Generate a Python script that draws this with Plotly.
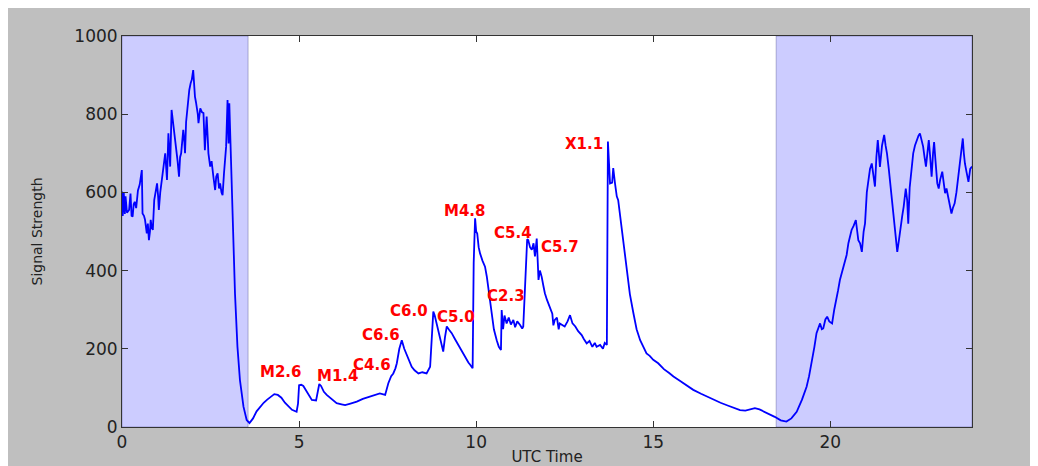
import plotly.graph_objects as go

hours = [
    0.00, 0.02, 0.05, 0.08, 0.10, 0.14, 0.20, 0.24, 0.27, 0.30, 0.33, 0.36, 0.40, 0.45, 0.50, 0.56, 0.58, 0.62,
    0.65, 0.70, 0.73, 0.76, 0.79, 0.81, 0.84, 0.87, 0.91, 0.95, 0.99, 1.02, 1.04, 1.08, 1.12, 1.17, 1.22, 1.25,
    1.27, 1.31, 1.34, 1.36, 1.40, 1.44, 1.47, 1.50, 1.54, 1.57, 1.61, 1.64, 1.67, 1.73, 1.76, 1.78, 1.81, 1.84,
    1.87, 1.90, 1.94, 1.97, 2.01, 2.03, 2.06, 2.09, 2.11, 2.14, 2.16, 2.19, 2.21, 2.26, 2.30, 2.34, 2.37, 2.39,
    2.42, 2.44, 2.49, 2.53, 2.58, 2.63, 2.66, 2.70, 2.74, 2.77, 2.81, 2.84, 2.88, 2.91, 2.94, 2.98, 3.01, 3.03,
    3.05, 3.07, 3.12, 3.19, 3.26, 3.33, 3.43, 3.52, 3.60, 3.70, 3.80, 3.90, 4.00, 4.10, 4.20, 4.30, 4.40, 4.50,
    4.60, 4.70, 4.80, 4.93, 4.97, 5.00, 5.06, 5.12, 5.20, 5.28, 5.36, 5.48, 5.52, 5.57, 5.62, 5.70, 5.78, 5.90,
    6.06, 6.20, 6.30, 6.45, 6.63, 6.80, 7.00, 7.15, 7.28, 7.43, 7.52, 7.60, 7.66, 7.72, 7.76, 7.83, 7.90, 7.97,
    8.04, 8.10, 8.18, 8.26, 8.37, 8.48, 8.60, 8.70, 8.75, 8.79, 8.83, 8.88, 8.93, 8.98, 9.03, 9.07, 9.12, 9.17,
    9.24, 9.31, 9.40, 9.48, 9.54, 9.62, 9.70, 9.78, 9.83, 9.90, 9.93, 9.97, 10.00, 10.03, 10.07, 10.11, 10.18,
    10.25, 10.30, 10.34, 10.39, 10.44, 10.50, 10.58, 10.64, 10.70, 10.72, 10.76, 10.80, 10.86, 10.92, 10.98,
    11.05, 11.10, 11.16, 11.24, 11.30, 11.33, 11.38, 11.41, 11.44, 11.47, 11.52, 11.57, 11.62, 11.66, 11.71,
    11.74, 11.76, 11.80, 11.85, 11.90, 11.94, 12.00, 12.08, 12.15, 12.18, 12.22, 12.28, 12.33, 12.36, 12.43,
    12.50, 12.58, 12.65, 12.72, 12.80, 12.88, 12.98, 13.04, 13.12, 13.20, 13.28, 13.35, 13.40, 13.50, 13.58,
    13.63, 13.69, 13.72, 13.76, 13.78, 13.84, 13.87, 13.92, 13.97, 14.01, 14.06, 14.11, 14.18, 14.25, 14.34,
    14.44, 14.53, 14.63, 14.72, 14.81, 14.90, 15.00, 15.14, 15.30, 15.45, 15.57, 15.75, 15.95, 16.13, 16.35,
    16.55, 16.70, 16.90, 17.10, 17.30, 17.45, 17.60, 17.75, 17.87, 18.00, 18.15, 18.30, 18.43, 18.60, 18.76,
    18.90, 19.05, 19.20, 19.33, 19.40, 19.47, 19.55, 19.61, 19.66, 19.71, 19.76, 19.80, 19.86, 19.91, 19.97,
    20.05, 20.11, 20.17, 20.22, 20.27, 20.34, 20.41, 20.46, 20.51, 20.56, 20.60, 20.66, 20.72, 20.76, 20.79,
    20.84, 20.89, 20.94, 20.98, 21.03, 21.07, 21.12, 21.17, 21.22, 21.26, 21.30, 21.34, 21.37, 21.40, 21.46,
    21.52, 21.56, 21.60, 21.65, 21.69, 21.74, 21.78, 21.83, 21.89, 21.94, 21.98, 22.03, 22.07, 22.13, 22.17,
    22.20, 22.24, 22.29, 22.34, 22.39, 22.44, 22.49, 22.53, 22.58, 22.62, 22.66, 22.70, 22.74, 22.78, 22.82,
    22.86, 22.90, 22.93, 22.97, 23.02, 23.06, 23.10, 23.16, 23.20, 23.24, 23.28, 23.32, 23.37, 23.42, 23.46,
    23.51, 23.56, 23.61, 23.66, 23.74, 23.77, 23.80, 23.85, 23.90, 23.95, 24.00,
]

signal = [
    602, 540, 600, 545, 590, 548, 555, 597, 540, 538, 570, 576, 560, 605, 620, 657, 546, 540,
    530, 495, 520, 478, 500, 530, 510, 504, 580, 600, 623, 590, 555, 600, 632, 657, 700, 660,
    632, 751, 700, 666, 811, 780, 760, 735, 717, 680, 640, 690, 700, 760, 730, 700, 780, 811,
    840, 862, 880, 888, 913, 870, 845, 830, 820, 800, 777, 800, 815, 805, 803, 708, 760, 794,
    740, 700, 666, 680, 640, 606, 640, 649, 610, 623, 600, 593, 649, 680, 717, 836, 725, 828,
    760, 717, 512, 342, 205, 120, 52, 18, 10, 22, 40, 52, 62, 70, 78, 84, 82, 75,
    62, 52, 44, 39, 60, 107, 108, 105, 92, 80, 69, 68, 90, 110, 105, 90, 82, 72,
    61, 58, 56, 60, 65, 72, 78, 84, 86, 82, 112, 130, 137, 150, 163, 200, 222, 200,
    184, 168, 154, 145, 137, 140, 137, 154, 230, 295, 285, 265, 248, 231, 210, 193, 230, 257,
    248, 240, 225, 212, 205, 190, 178, 165, 159, 150, 420, 534, 500, 495, 460, 444, 425,
    410, 385, 359, 320, 282, 250, 222, 205, 197, 299, 250, 285, 265, 280, 262,
    274, 255, 270, 261, 252, 257, 380, 444, 480, 478, 460, 453, 470, 436, 482,
    420, 376, 400, 384, 360, 342, 325, 308, 290, 260, 274, 280, 250, 265, 262,
    257, 270, 286, 265, 257, 245, 235, 225, 214, 220, 205, 215, 205, 210, 200,
    215, 210, 730, 640, 623, 625, 662, 623, 590, 580, 545, 512, 455, 402, 340,
    291, 250, 222, 205, 188, 182, 172, 163, 148, 138, 129, 118, 105, 95, 85,
    76, 69, 62, 55, 48, 43, 42, 46, 48, 45, 39, 32, 26, 17, 14,
    22, 39, 70, 103, 130, 163, 205, 240, 255, 265, 250, 252, 275, 282, 270,
    265, 300, 325, 350, 376, 400, 419, 440, 470, 490, 504, 515, 529, 500, 478,
    470, 448, 500, 521, 600, 632, 660, 674, 640, 615, 690, 734, 700, 665, 720,
    747, 720, 699, 660, 623, 580, 538, 490, 448, 480, 512, 540, 563, 610, 580,
    520, 612, 660, 700, 720, 734, 745, 751, 730, 717, 690, 666, 700, 734, 690,
    640, 700, 729, 680, 623, 610, 632, 653, 620, 598, 610, 589, 570, 546, 560,
    572, 600, 640, 690, 738, 700, 674, 650, 627, 660, 666,
]

# Night-time (shaded) intervals, in UTC hours
night_start = [0.0, 18.47]
night_end = [3.56, 24.0]

# Flare labels
flare_labels = ["M2.6", "M1.4", "C4.6", "C6.6", "C6.0", "C5.0", "C2.3", "M4.8", "C5.4", "C5.7", "X1.1"]
flare_x = [4.49, 6.10, 7.06, 7.31, 8.10, 9.43, 10.84, 9.68, 11.04, 12.37, 13.04]
flare_y = [141, 130, 159, 235, 297, 281, 335, 552, 496, 460, 724]

x_ticks = [0, 5, 10, 15, 20]
y_ticks = [0, 200, 400, 600, 800, 1000]

fig = go.Figure()

for s, e in zip(night_start, night_end):
    fig.add_shape(type="rect", xref="x", yref="y", x0=s, x1=e, y0=0, y1=1000,
                  fillcolor="rgba(0,0,255,0.2)", line=dict(color="rgba(60,60,120,0.35)", width=1),
                  layer="below")

fig.add_trace(go.Scatter(x=hours, y=signal, mode="lines",
                         line=dict(color="#0000ff", width=1.8), showlegend=False))

for lab, fx, fy in zip(flare_labels, flare_x, flare_y):
    fig.add_annotation(x=fx, y=fy, text="<b>%s</b>" % lab, showarrow=False,
                       font=dict(family="DejaVu Sans", size=15, color="#ff0000"))

axis_common = dict(showgrid=False, zeroline=False, showline=True, linecolor="#333333", linewidth=1,
                   mirror="ticks", ticks="inside", ticklen=6, tickcolor="#333333",
                   tickfont=dict(family="DejaVu Sans", size=17, color="#222222"))

fig.update_xaxes(range=[0, 24], tickvals=x_ticks, ticktext=[str(v) for v in x_ticks],
                 title=dict(text="UTC Time", standoff=0,
                            font=dict(family="DejaVu Sans", size=15, color="#222222")),
                 automargin=False, **axis_common)
fig.update_yaxes(range=[0, 1000], tickvals=y_ticks, ticktext=[str(v) for v in y_ticks],
                 title=dict(text="Signal Strength", standoff=28,
                            font=dict(family="DejaVu Sans", size=14, color="#222222")),
                 automargin=False, **axis_common)

fig.update_layout(width=1038, height=466,
                  margin=dict(l=114, r=74, t=28, b=47),
                  paper_bgcolor="#bfbfbf", plot_bgcolor="white")

fig.write_html("out.html")
